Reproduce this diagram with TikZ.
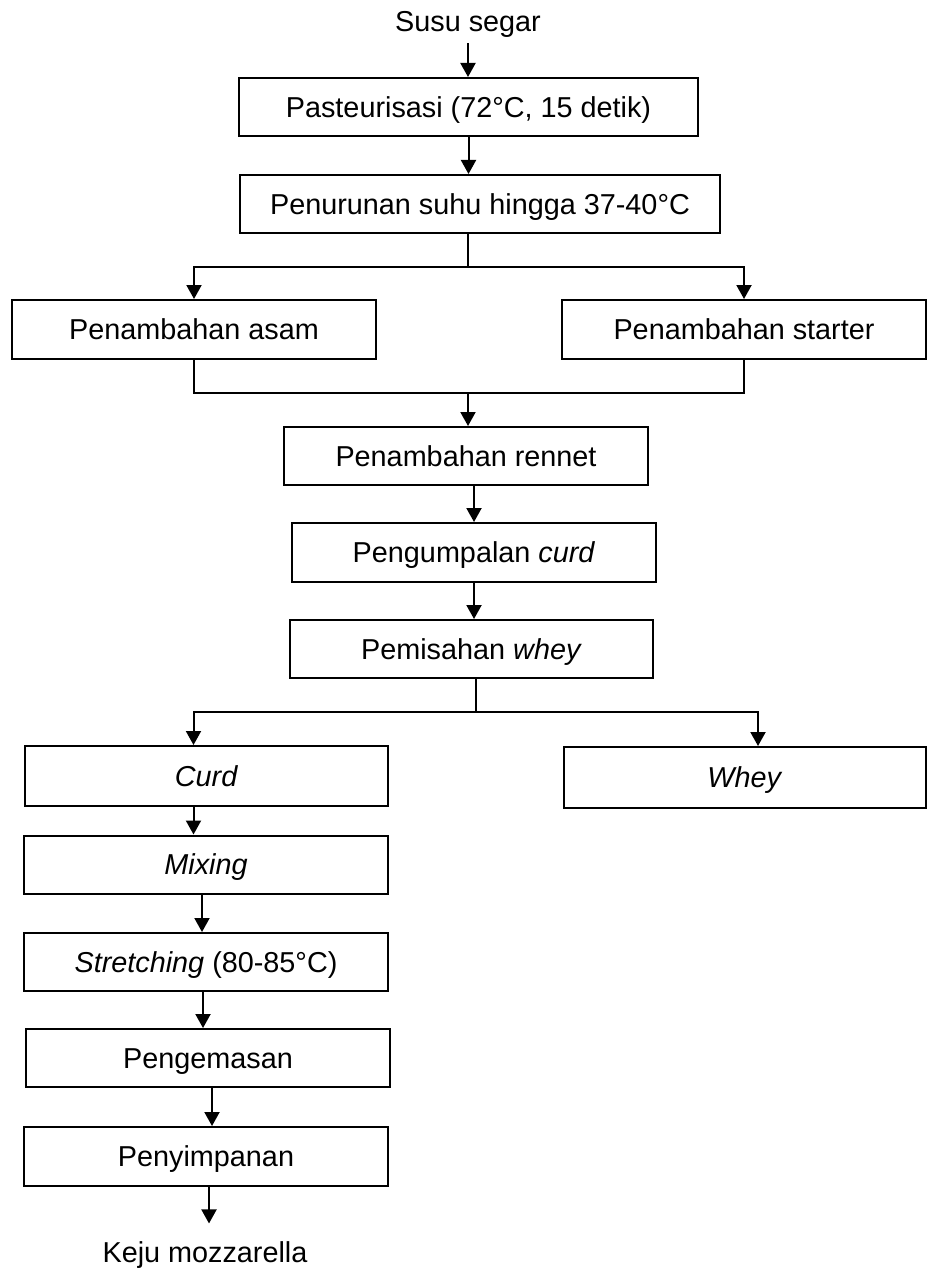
\documentclass[tikz,border=0pt]{standalone}
\usepackage{fontspec}
\setmainfont{Liberation Sans}
\usetikzlibrary{arrows.meta}

\begin{document}
\begin{tikzpicture}[x=1pt,y=-1pt,line join=miter,
    font=\fontsize{28.8}{34}\selectfont,
    lbl/.style={inner sep=0pt,text height=20.7pt,text depth=0pt},
    box/.style={lbl,draw,line width=2pt,minimum width=364pt,minimum height=58pt},
    lin/.style={line width=2pt},
    arr/.style={line width=2pt,-{Triangle[width=15pt,length=14pt]}}]
  \useasboundingbox (0,0) rectangle (928,1268);
  % main column
  \node[lbl] (susu) at (468,21.5) {Susu segar};
  \node[box,minimum width=459pt] (pas) at (468.5,107) {Pasteurisasi (72°C, 15 detik)};
  \node[box,minimum width=480pt] (pen) at (480,204) {Penurunan suhu hingga 37-40°C};
  \node[box,minimum height=59pt] (asam) at (194,329.5) {Penambahan asam};
  \node[box,minimum height=59pt] (starter) at (744,329.5) {Penambahan starter};
  \node[box] (rennet) at (466,456) {Penambahan rennet};
  \node[box,minimum height=59pt] (kumpul) at (474,552.5) {Pengumpalan \textit{curd}};
  \node[box,minimum width=363pt] (pisah) at (471.5,649) {Pemisahan \textit{whey}};
  % curd and whey
  \node[box,minimum width=363pt,minimum height=60pt] (curd) at (206.5,776) {\textit{Curd}};
  \node[box,minimum width=362pt,minimum height=61pt] (whey) at (745,777.5) {\textit{Whey}};
  \node[box] (mixing) at (206,864.5) {\textit{Mixing}};
  \node[box] (stretch) at (206,962) {\textit{Stretching} (80-85°C)};
  \node[box] (kemas) at (208,1058) {Pengemasan};
  \node[box,minimum height=59pt] (simpan) at (206,1156.5) {Penyimpanan};
  \node[lbl] (keju) at (205,1252) {Keju mozzarella};

  \coordinate (s1) at (468,267);
  \coordinate (m1) at (468,393);
  \coordinate (s2) at (476,712);

  \draw[arr,shorten <=11pt] (susu.south) -- (susu.south |- pas.north);
  \draw[arr] (pas.south) -- (pas.south |- pen.north);
  \draw[lin] (pen.south -| s1) -- (s1);
  \draw[arr] (s1) -| (asam.north);
  \draw[arr] (s1) -| (starter.north);
  \draw[lin] (asam.south) |- (m1) -| (starter.south);
  \draw[arr] (m1) -- (m1 |- rennet.north);
  \draw[arr] (kumpul.north |- rennet.south) -- (kumpul.north);
  \draw[arr] (kumpul.south) -- (kumpul.south |- pisah.north);
  \draw[lin] (pisah.south -| s2) -- (s2);
  \draw[arr] (s2) -| ([xshift=-13pt]curd.north);
  \draw[arr] (s2) -| ([xshift=13pt]whey.north);
  \foreach \a/\b/\d in {curd/mixing/-13,mixing/stretch/-4,stretch/kemas/-3,kemas/simpan/4} {
    \draw[arr] ([xshift=\d pt]\a.south) -- ([xshift=\d pt]\a.south |- \b.north);
  }
  \draw[arr,shorten >=18pt] ([xshift=3pt]simpan.south) -- ([xshift=3pt]simpan.south |- keju.north);
\end{tikzpicture}
\end{document}
